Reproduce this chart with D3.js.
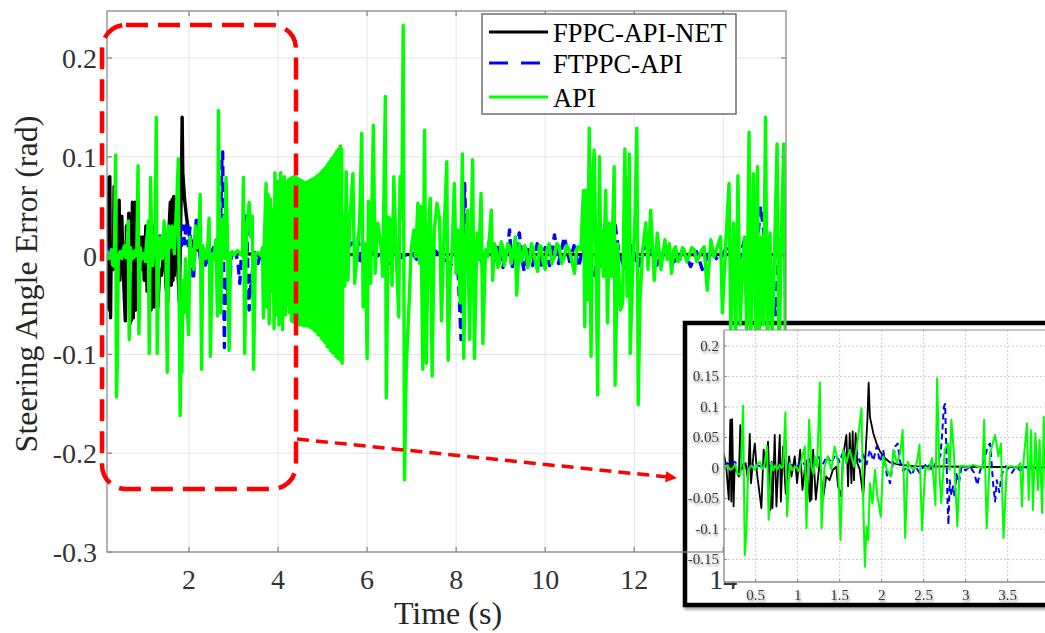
<!DOCTYPE html>
<html>
<head>
<meta charset="utf-8">
<script src="https://cdn.jsdelivr.net/npm/d3@7"></script>
<style>
  html, body { margin: 0; padding: 0; background: #ffffff; }
  svg { display: block; }
</style>
</head>
<body>
<svg id="chart" width="1045" height="633"></svg>
<script>
// ---- tick values ----
const timeTicks = [2, 4, 6, 8, 10, 12, 14];
const errorTicks = [-0.3, -0.2, -0.1, 0, 0.1, 0.2];
const insetTimeTicks = [0.5, 1, 1.5, 2, 2.5, 3, 3.5];
const insetErrorTicks = [-0.15, -0.1, -0.05, 0, 0.05, 0.1, 0.15, 0.2];
const seriesNames = ["FPPC-API-NET", "FTPPC-API", "API"];

// ---- steering angle error, [time (s), error (rad)] ----
const fppcApiNet = [
  [0.12,0.024],[0.15,0.002],[0.18,-0.052],[0.198,0.079],[0.21,-0.055],[0.22,0.080],[0.237,-0.063],
  [0.25,0.002],[0.30,-0.014],[0.317,0.070],[0.33,-0.003],[0.38,0.008],[0.41,-0.020],[0.43,0.056],
  [0.445,-0.025],[0.476,0.026],[0.49,0.040],[0.516,-0.009],[0.568,-0.066],[0.595,0.030],[0.62,0.002],
  [0.647,0.043],[0.675,-0.069],[0.69,0.010],[0.70,-0.066],[0.727,0.054],[0.747,-0.063],[0.787,0.054],
  [0.80,-0.055],[0.826,0.035],[0.858,-0.042],[0.898,0.019],[0.926,-0.014],[0.965,0.019],[0.993,-0.025],
  [1.03,0.030],[1.057,-0.036],[1.097,0.013],[1.145,-0.055],[1.155,0.020],[1.164,-0.052],[1.184,0.030],
  [1.216,-0.052],[1.264,0.013],[1.30,-0.052],[1.34,-0.014],[1.38,-0.020],[1.42,-0.003],[1.46,0.002],
  [1.48,-0.030],[1.52,-0.047],[1.54,0.019],[1.58,0.054],[1.60,-0.030],[1.62,0.057],[1.64,-0.025],
  [1.655,0.060],[1.67,-0.020],[1.69,0.057],[1.71,0.008],[1.74,-0.003],[1.78,-0.047],[1.80,0.002],
  [1.83,0.079],[1.845,0.140],[1.86,0.084],[1.90,0.057],[1.94,0.040],[1.98,0.027],[2.04,0.016],
  [2.10,0.009],[2.22,0.005],[2.38,0.003],[3.0,0.002],[4.0,0.001],[6.0,0.001],[10.0,0.001],[15.4,0.001]
];

const ftppcApi = [
  [0.12,0.005],[0.16,0.008],[0.20,0.004],[0.25,0.010],[0.30,0.003],[0.35,0.006],[0.40,0.002],
  [0.50,0.005],[0.60,0.001],[0.70,0.004],[0.80,0.002],[0.90,0.006],[1.00,0.003],[1.05,0.012],
  [1.10,0.002],[1.15,0.015],[1.20,0.004],[1.25,0.018],[1.30,0.006],[1.35,0.020],[1.40,0.008],
  [1.45,0.022],[1.50,0.010],[1.55,0.030],[1.58,0.008],[1.62,0.025],[1.66,0.012],[1.70,0.028],
  [1.74,0.010],[1.78,0.022],[1.82,0.006],[1.86,0.030],[1.90,0.012],[1.94,0.035],[1.98,0.010],
  [2.02,0.028],[2.06,-0.010],[2.10,-0.025],[2.13,0.005],[2.16,0.035],[2.19,0.040],[2.22,0.010],
  [2.26,-0.005],[2.30,0.002],[2.36,-0.012],[2.40,0.003],[2.45,-0.008],[2.50,0.002],[2.55,0.008],
  [2.60,-0.004],[2.65,0.010],[2.70,0.020],[2.72,0.055],[2.74,0.100],[2.755,0.105],[2.77,0.030],
  [2.785,-0.060],[2.795,-0.093],[2.81,-0.020],[2.83,-0.045],[2.85,-0.030],[2.87,-0.048],[2.89,-0.010],
  [2.92,-0.025],[2.95,0.002],[3.00,-0.004],[3.05,0.003],[3.10,-0.008],[3.14,-0.028],[3.17,-0.005],
  [3.22,0.010],[3.26,0.035],[3.29,0.040],[3.31,0.005],[3.33,-0.030],[3.35,-0.055],[3.37,-0.020],
  [3.40,-0.040],[3.43,-0.010],[3.48,0.003],[3.55,-0.008],[3.60,0.002],[3.65,-0.004],[3.70,0.002],
  [3.80,-0.002],[3.90,0.003],[4.00,-0.002],[5.50,0.005],[5.80,0.019],[5.85,-0.010],[6.10,0.005],
  [6.50,-0.008],[7.00,0.004],[7.18,-0.008],[7.50,0.006],[7.90,-0.010],[8.05,-0.020],[8.11,-0.085],
  [8.15,0.020],[8.19,0.073],[8.23,0.010],[8.30,-0.015],[8.45,0.012],[8.60,-0.010],[8.75,0.015],
  [8.86,-0.006],[8.95,0.010],[9.05,-0.012],[9.15,0.005],[9.20,0.026],[9.25,-0.014],[9.35,0.008],
  [9.42,0.023],[9.48,-0.004],[9.53,-0.016],[9.62,0.006],[9.72,-0.010],[9.82,0.012],[9.90,-0.012],
  [10.00,0.008],[10.10,-0.010],[10.21,0.021],[10.30,-0.008],[10.43,0.019],[10.55,-0.006],[10.65,0.010],
  [10.75,-0.012],[10.85,0.008],[10.95,-0.015],[11.10,-0.020],[11.25,0.010],[11.40,-0.012],[11.55,0.039],
  [11.65,0.005],[11.80,-0.015],[11.95,0.010],[12.10,-0.012],[12.19,0.006],[12.35,0.012],[12.50,-0.010],
  [12.70,0.008],[12.90,-0.006],[13.10,0.005],[13.27,-0.011],[13.40,0.004],[13.53,-0.014],[13.70,0.006],
  [13.90,-0.006],[14.10,0.010],[14.30,-0.015],[14.50,0.020],[14.70,-0.020],[14.84,0.050],[14.95,0.010],
  [15.05,-0.030],[15.18,-0.060],[15.25,0.015],[15.40,0.002]
];

const api = [
  [0.12,0.002],[0.16,0.004],[0.20,-0.003],[0.23,0.000],[0.26,0.006],[0.28,-0.009],[0.32,-0.011],
  [0.35,0.102],[0.37,-0.143],[0.39,-0.104],[0.41,-0.003],[0.45,0.004],[0.49,-0.003],[0.52,0.006],
  [0.55,0.010],[0.58,-0.002],[0.60,0.002],[0.635,0.035],[0.655,-0.085],[0.687,0.008],[0.71,-0.004],
  [0.727,0.004],[0.76,-0.002],[0.787,0.005],[0.81,0.000],[0.826,0.002],[0.854,0.091],[0.874,-0.079],
  [0.906,0.008],[0.93,-0.004],[0.945,0.000],[0.985,0.002],[1.02,-0.006],[1.045,0.013],[1.085,0.035],
  [1.105,-0.099],[1.136,0.079],[1.164,0.002],[1.19,-0.010],[1.204,0.019],[1.232,0.002],[1.264,0.140],
  [1.284,-0.099],[1.32,0.002],[1.36,0.019],[1.40,-0.003],[1.44,0.035],[1.48,0.010],[1.51,-0.118],
  [1.54,0.030],[1.58,0.008],[1.62,0.030],[1.67,0.002],[1.72,0.051],[1.76,0.098],[1.78,-0.055],
  [1.80,-0.162],[1.82,-0.096],[1.84,-0.118],[1.86,-0.025],[1.89,-0.058],[1.92,-0.003],[1.95,-0.047],
  [1.99,-0.080],[2.02,0.019],[2.06,-0.003],[2.11,-0.014],[2.14,0.030],[2.18,0.008],[2.22,0.024],
  [2.25,0.062],[2.28,-0.115],[2.31,0.010],[2.34,0.002],[2.38,-0.003],[2.42,0.010],[2.45,0.038],
  [2.48,-0.102],[2.52,0.002],[2.56,-0.003],[2.60,0.016],[2.64,-0.061],[2.66,0.147],[2.69,-0.014],
  [2.71,-0.058],[2.75,0.030],[2.79,0.040],[2.81,-0.003],[2.83,0.079],[2.86,0.024],[2.90,-0.096],
  [2.93,0.002],[2.97,0.004],[3.01,0.000],[3.05,0.003],[3.09,0.005],[3.15,0.002],[3.20,0.000],
  [3.22,0.079],[3.25,-0.099],[3.29,0.024],[3.35,0.054],[3.39,0.019],[3.42,0.040],[3.45,-0.115],
  [3.49,0.002],[3.55,0.003],[3.61,0.000],[3.65,0.008],[3.67,-0.063],[3.69,0.013],[3.73,0.073],
  [3.75,-0.052],[3.78,0.062],[3.80,-0.069],[3.83,0.057],[3.86,-0.036],[3.88,0.046],[3.91,-0.074],
  [3.93,0.084],[3.96,-0.060],[3.99,0.075],[4.02,-0.070],[4.06,0.084],[4.10,-0.075],[4.14,0.080],
  [4.17,-0.060],
  // fast oscillation burst
  [4.20,0.075],[4.22,-0.050],[4.24,0.077],[4.26,-0.058],[4.28,0.078],[4.30,-0.066],[4.32,0.079],
  [4.34,-0.067],[4.36,0.080],[4.38,-0.068],[4.40,0.079],[4.42,-0.069],[4.44,0.078],[4.46,-0.070],
  [4.48,0.077],[4.50,-0.070],[4.52,0.076],[4.54,-0.070],[4.56,0.075],[4.58,-0.071],[4.60,0.074],
  [4.62,-0.071],[4.64,0.074],[4.66,-0.071],[4.68,0.075],[4.70,-0.072],[4.72,0.076],[4.74,-0.073],
  [4.76,0.077],[4.78,-0.074],[4.80,0.078],[4.82,-0.076],[4.84,0.079],[4.86,-0.077],[4.88,0.081],
  [4.90,-0.080],[4.92,0.082],[4.94,-0.081],[4.96,0.084],[4.98,-0.084],[5.00,0.086],[5.02,-0.086],
  [5.04,0.088],[5.06,-0.088],[5.08,0.090],[5.10,-0.092],[5.12,0.093],[5.14,-0.093],[5.16,0.095],
  [5.18,-0.096],[5.20,0.098],[5.22,-0.098],[5.24,0.100],[5.26,-0.099],[5.28,0.103],[5.30,-0.102],
  [5.32,0.106],[5.34,-0.104],[5.36,0.108],[5.38,-0.105],[5.40,0.111],[5.42,-0.107],[5.43,0.108],
  [5.44,-0.109],
  [5.46,0.039],[5.50,-0.031],[5.53,0.085],[5.57,-0.025],[5.61,0.033],[5.68,0.083],[5.72,-0.028],
  [5.79,0.009],[5.83,0.033],[5.88,0.124],[5.91,-0.052],[5.96,0.012],[6.00,-0.104],[6.03,0.055],
  [6.08,-0.028],[6.14,0.132],[6.18,-0.018],[6.24,0.033],[6.32,0.006],[6.35,-0.021],[6.41,0.161],
  [6.43,-0.144],[6.48,0.039],[6.53,0.036],[6.56,-0.030],[6.60,0.080],[6.65,0.006],[6.71,-0.062],
  [6.74,0.080],[6.78,0.039],[6.81,0.233],[6.84,-0.227],[6.88,-0.112],[6.93,-0.062],[6.99,0.006],
  [7.05,0.026],[7.09,-0.001],[7.14,0.053],[7.18,-0.008],[7.21,0.050],[7.25,-0.115],[7.29,0.127],
  [7.33,-0.109],[7.38,0.029],[7.42,0.058],[7.46,-0.122],[7.51,0.026],[7.57,0.053],[7.63,0.036],
  [7.67,-0.066],[7.73,0.025],[7.79,0.095],[7.82,-0.106],[7.87,-0.014],[7.91,0.006],[7.96,0.073],
  [8.00,-0.018],[8.04,0.026],[8.09,-0.048],[8.14,0.103],[8.17,-0.104],[8.21,0.006],[8.26,0.046],
  [8.30,-0.085],[8.35,0.048],[8.37,0.097],[8.41,-0.104],[8.47,0.023],[8.51,-0.004],[8.56,0.063],
  [8.60,-0.089],[8.66,0.006],[8.71,-0.001],[8.76,0.026],[8.79,0.046],[8.82,-0.025],[8.86,0.012],
  [8.90,0.006],[8.94,-0.012],[8.97,-0.008],[9.01,0.014],[9.05,0.009],[9.08,-0.010],[9.12,-0.001],
  [9.16,0.012],[9.20,0.009],[9.24,-0.008],[9.27,0.002],[9.33,0.019],[9.36,-0.040],[9.42,0.012],
  [9.46,-0.006],[9.50,-0.001],[9.54,0.010],[9.57,0.006],[9.61,-0.012],[9.65,-0.006],[9.69,0.012],
  [9.72,0.009],[9.77,-0.004],[9.83,-0.016],[9.87,0.010],[9.91,0.009],[9.95,-0.006],[10.00,-0.014],
  [10.04,0.006],[10.09,0.012],[10.15,-0.008],[10.21,-0.001],[10.26,0.012],[10.32,0.009],[10.37,-0.008],
  [10.43,-0.001],[10.48,0.010],[10.54,0.006],[10.60,-0.006],[10.66,-0.018],[10.70,0.004],[10.73,0.009],
  [10.80,0.006],[10.86,0.066],[10.89,-0.072],[10.92,0.066],[10.95,-0.045],[10.99,0.129],[11.03,-0.102],
  [11.07,0.080],[11.10,0.107],[11.14,-0.001],[11.18,-0.141],[11.22,0.100],[11.25,-0.011],[11.29,0.026],
  [11.31,-0.021],[11.36,0.066],[11.40,-0.068],[11.44,0.033],[11.49,-0.021],[11.55,0.090],[11.57,-0.131],
  [11.63,0.012],[11.69,-0.055],[11.74,-0.048],[11.79,0.108],[11.84,-0.041],[11.89,0.103],[11.91,-0.099],
  [11.96,-0.021],[12.02,0.043],[12.06,0.129],[12.09,-0.151],[12.13,-0.045],[12.19,0.006],[12.26,0.033],
  [12.31,-0.014],[12.37,0.046],[12.45,-0.025],[12.52,0.023],[12.60,-0.014],[12.69,0.016],[12.74,-0.004],
  [12.79,0.012],[12.84,-0.018],[12.89,0.006],[12.93,0.009],[12.98,-0.006],[13.03,-0.004],[13.08,0.008],
  [13.12,0.006],[13.18,-0.006],[13.23,-0.001],[13.29,0.008],[13.35,0.006],[13.40,-0.006],[13.46,-0.001],
  [13.52,0.006],[13.57,0.009],[13.64,-0.035],[13.72,0.016],[13.79,-0.001],[13.87,0.009],[13.94,0.019],
  [13.98,-0.058],[14.05,0.006],[14.13,0.073],[14.17,-0.080],[14.23,0.033],[14.28,-0.090],[14.33,0.081],
  [14.38,-0.070],[14.43,-0.014],[14.48,0.019],[14.53,-0.085],[14.58,0.125],[14.62,-0.090],[14.68,0.083],
  [14.73,-0.080],[14.77,0.090],[14.80,-0.095],[14.86,0.019],[14.90,-0.070],[14.95,0.140],[14.99,-0.100],
  [15.05,0.023],[15.10,-0.085],[15.15,-0.001],[15.21,0.113],[15.25,-0.110],[15.30,0.006],[15.36,0.113],
  [15.40,-0.120]
];

const seriesData = [fppcApiNet, ftppcApi, api];
const seriesColors = ["#000000", "#0000ff", "#00ff00"];

// ---- layout ----
const svg = d3.select("#chart");
const serif = "'Liberation Serif', 'Times New Roman', 'DejaVu Serif', serif";

const main = { left: 107, right: 786, top: 11, bottom: 552 };
const x = d3.scaleLinear().domain([0.157, 15.41]).range([main.left, main.right]);
const y = d3.scaleLinear().domain([-0.3, 0.2476]).range([main.bottom, main.top]);

const inset = { left: 724, right: 1060, top: 330, bottom: 582 };
const xi = d3.scaleLinear().domain([0.123, 0.123 + (inset.right - inset.left) / 84]).range([inset.left, inset.right]);
const yi = d3.scaleLinear().domain([-0.187, 0.2262]).range([inset.bottom, inset.top]);

const defs = svg.append("defs");
defs.append("clipPath").attr("id", "clip-main")
  .append("rect").attr("x", main.left).attr("y", main.top)
  .attr("width", main.right - main.left).attr("height", main.bottom - main.top);
defs.append("clipPath").attr("id", "clip-inset")
  .append("rect").attr("x", inset.left).attr("y", inset.top)
  .attr("width", inset.right - inset.left).attr("height", inset.bottom - inset.top);
const shadow = defs.append("filter").attr("id", "shadow")
  .attr("x", "-20%").attr("y", "-20%").attr("width", "140%").attr("height", "140%");
shadow.append("feDropShadow").attr("dx", 1.5).attr("dy", 2.5).attr("stdDeviation", 1.6)
  .attr("flood-color", "#000").attr("flood-opacity", 0.35);
const soft = defs.append("filter").attr("id", "soft")
  .attr("x", "-30%").attr("y", "-40%").attr("width", "160%").attr("height", "180%");
soft.append("feDropShadow").attr("dx", 1).attr("dy", 2).attr("stdDeviation", 1.2)
  .attr("flood-color", "#000").attr("flood-opacity", 0.45);
defs.append("marker").attr("id", "arrowhead")
  .attr("viewBox", "0 0 10 10").attr("refX", 2).attr("refY", 5)
  .attr("markerWidth", 3.2).attr("markerHeight", 3.2).attr("orient", "auto")
  .append("path").attr("d", "M0,0 L10,5 L0,10 Z").attr("fill", "#ff0000");

// ---- main grid ----
const gridMain = svg.append("g").attr("stroke", "#e4e4e4").attr("stroke-width", 1);
gridMain.selectAll("line.gx").data(timeTicks).join("line")
  .attr("x1", d => x(d)).attr("x2", d => x(d)).attr("y1", main.top).attr("y2", main.bottom);
gridMain.selectAll("line.gy").data(errorTicks).join("line")
  .attr("x1", main.left).attr("x2", main.right).attr("y1", d => y(d)).attr("y2", d => y(d));

// ---- inset frame (drawn below the main traces) ----
svg.append("rect")
  .attr("x", 685).attr("y", 323).attr("width", 420).attr("height", 282)
  .attr("fill", "#ffffff").attr("stroke", "#000000").attr("stroke-width", 4.5)
  .attr("filter", "url(#shadow)");

// ---- main traces ----
const lineMain = d3.line().x(d => x(d[0])).y(d => y(d[1]));
const tracesMain = svg.append("g").attr("clip-path", "url(#clip-main)");
seriesData.forEach((s, i) => {
  tracesMain.append("path")
    .attr("d", lineMain(s))
    .attr("fill", "none")
    .attr("stroke", seriesColors[i])
    .attr("stroke-width", 3.4)
    .attr("stroke-linejoin", "round")
    .attr("stroke-dasharray", i === 1 ? "10 6" : null);
});

// ---- main axes box and ticks ----
const axisColor = "#8a8a8a";
const box = svg.append("g").attr("stroke", axisColor).attr("stroke-width", 1.3).attr("fill", "none");
box.append("rect").attr("x", main.left).attr("y", main.top)
  .attr("width", main.right - main.left).attr("height", main.bottom - main.top);
timeTicks.forEach(t => {
  box.append("line").attr("x1", x(t)).attr("x2", x(t)).attr("y1", main.bottom).attr("y2", main.bottom - 5);
  box.append("line").attr("x1", x(t)).attr("x2", x(t)).attr("y1", main.top).attr("y2", main.top + 5);
});
errorTicks.forEach(v => {
  box.append("line").attr("x1", main.left).attr("x2", main.left + 5).attr("y1", y(v)).attr("y2", y(v));
  box.append("line").attr("x1", main.right).attr("x2", main.right - 5).attr("y1", y(v)).attr("y2", y(v));
});

const tickFmt = v => (Math.abs(v) < 1e-9 ? "0" : String(+v.toFixed(2)));
svg.append("g").selectAll("text").data(errorTicks).join("text")
  .attr("x", 97).attr("y", d => y(d) + 10)
  .attr("text-anchor", "end")
  .attr("font-family", serif).attr("font-size", 28).attr("fill", "#333333")
  .text(tickFmt);
svg.append("g").selectAll("text").data(timeTicks).join("text")
  .attr("x", d => x(d)).attr("y", 589)
  .attr("text-anchor", "middle")
  .attr("font-family", serif).attr("font-size", 28).attr("fill", "#333333")
  .text(d => d);

svg.append("text")
  .attr("x", 448).attr("y", 624).attr("text-anchor", "middle")
  .attr("font-family", serif).attr("font-size", 32).attr("fill", "#262626")
  .text("Time (s)");
svg.append("text")
  .attr("transform", "translate(37,284) rotate(-90)")
  .attr("text-anchor", "middle")
  .attr("font-family", serif).attr("font-size", 32).attr("fill", "#262626")
  .text("Steering Angle Error (rad)");

// ---- inset plot ----
const ig = svg.append("g");
ig.append("rect").attr("x", inset.left).attr("y", inset.top)
  .attr("width", inset.right - inset.left).attr("height", inset.bottom - inset.top)
  .attr("fill", "#ffffff");
const gridInset = ig.append("g").attr("stroke", "#c4c4c4").attr("stroke-width", 0.9)
  .attr("stroke-dasharray", "2 2");
gridInset.selectAll("line.ix").data(insetTimeTicks).join("line")
  .attr("x1", d => xi(d)).attr("x2", d => xi(d)).attr("y1", inset.top).attr("y2", inset.bottom);
gridInset.selectAll("line.iy").data(insetErrorTicks).join("line")
  .attr("x1", inset.left).attr("x2", inset.right).attr("y1", d => yi(d)).attr("y2", d => yi(d));

const lineInset = d3.line().x(d => xi(d[0])).y(d => yi(d[1]));
const tracesInset = ig.append("g").attr("clip-path", "url(#clip-inset)");
seriesData.forEach((s, i) => {
  tracesInset.append("path")
    .attr("d", lineInset(s))
    .attr("fill", "none")
    .attr("stroke", seriesColors[i])
    .attr("stroke-width", i === 0 ? 1.8 : 2)
    .attr("stroke-linejoin", "round")
    .attr("stroke-dasharray", i === 1 ? "6 4" : null);
});

const insetAxis = ig.append("g").attr("stroke", "#8c8c8c").attr("fill", "none");
insetAxis.append("line").attr("x1", inset.left).attr("x2", inset.right)
  .attr("y1", inset.top).attr("y2", inset.top).attr("stroke-width", 1);
insetAxis.append("line").attr("x1", inset.left).attr("x2", inset.left)
  .attr("y1", inset.top).attr("y2", inset.bottom).attr("stroke-width", 1.4);
insetAxis.append("line").attr("x1", inset.left).attr("x2", inset.right)
  .attr("y1", inset.bottom).attr("y2", inset.bottom).attr("stroke-width", 1.6);
insetErrorTicks.forEach(v => {
  insetAxis.append("line").attr("x1", inset.left).attr("x2", inset.left + 3)
    .attr("y1", yi(v)).attr("y2", yi(v));
});
insetTimeTicks.forEach(t => {
  insetAxis.append("line").attr("x1", xi(t)).attr("x2", xi(t))
    .attr("y1", inset.bottom).attr("y2", inset.bottom - 3);
});

ig.append("g").attr("filter", "url(#soft)")
  .selectAll("text").data(insetErrorTicks).join("text")
  .attr("x", 719).attr("y", d => yi(d) + 5)
  .attr("text-anchor", "end")
  .attr("font-family", serif).attr("font-size", 15).attr("fill", "#3a3a3a")
  .text(tickFmt);
ig.append("g").attr("filter", "url(#soft)")
  .selectAll("text").data(insetTimeTicks).join("text")
  .attr("x", d => xi(d)).attr("y", 600)
  .attr("text-anchor", "middle")
  .attr("font-family", serif).attr("font-size", 15).attr("fill", "#3a3a3a")
  .text(d => d);

// ---- legend ----
const lg = svg.append("g");
lg.append("rect").attr("x", 482).attr("y", 14).attr("width", 254).attr("height", 100)
  .attr("fill", "#ffffff").attr("stroke", "#5a5a5a").attr("stroke-width", 1.3);
const legendRows = [32, 63, 97];
seriesNames.forEach((name, i) => {
  lg.append("line")
    .attr("x1", 489).attr("x2", i === 1 ? 547 : 548)
    .attr("y1", legendRows[i]).attr("y2", legendRows[i])
    .attr("stroke", seriesColors[i]).attr("stroke-width", 3.2)
    .attr("stroke-dasharray", i === 1 ? "19 13" : null);
  lg.append("text")
    .attr("x", 553).attr("y", legendRows[i] + 10)
    .attr("font-family", serif).attr("font-size", 26.5).attr("fill", "#000000")
    .text(name);
});

// ---- zoom callout ----
const callout = svg.append("g").attr("fill", "none").attr("stroke", "#ff0000");
callout.append("rect")
  .attr("x", 102).attr("y", 25).attr("width", 194).attr("height", 464)
  .attr("rx", 24).attr("ry", 24)
  .attr("stroke-width", 4.5).attr("stroke-dasharray", "22 10");
callout.append("line")
  .attr("x1", 297).attr("y1", 439).attr("x2", 668).attr("y2", 477)
  .attr("stroke-width", 3.5).attr("stroke-dasharray", "12 7")
  .attr("marker-end", "url(#arrowhead)");
</script>
</body>
</html>
